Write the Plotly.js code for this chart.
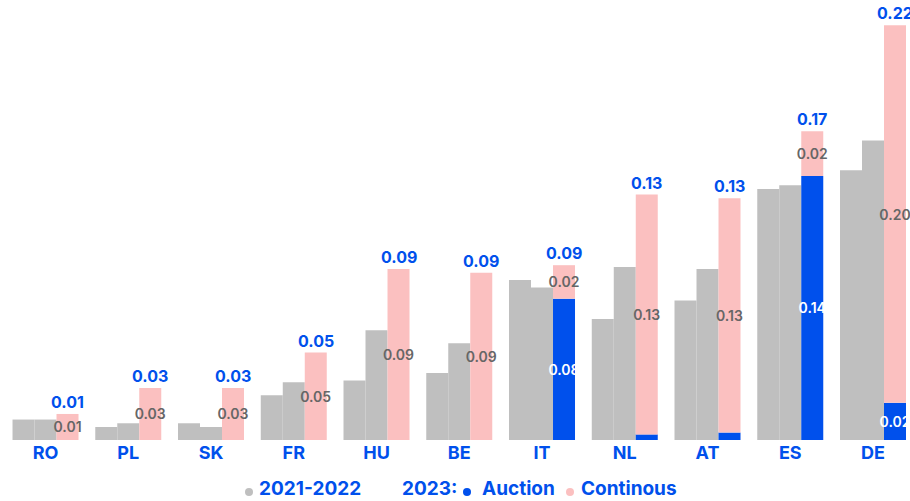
<!DOCTYPE html>
<html><head><meta charset="utf-8">
<script src="https://cdn.plot.ly/plotly-3.0.1.min.js"></script>
<style>html,body{margin:0;padding:0;background:#fff}#chart{width:910px;height:501px}</style>
</head><body><div id="chart"></div>
<script>
const countries = ['RO','PL','SK','FR','HU','BE','IT','NL','AT','ES','DE'];
const y2021 = [0.011,0.007,0.009,0.024,0.032,0.036,0.086,0.065,0.075,0.135,0.145];
const y2022 = [0.011,0.009,0.007,0.031,0.059,0.052,0.082,0.093,0.092,0.137,0.161];
const auction = [0,0,0,0,0,0,0.076,0.003,0.004,0.142,0.020];
const continuous = [0.014,0.028,0.028,0.047,0.092,0.090,0.018,0.129,0.126,0.024,0.203];
const legendLabels = ['2021-2022','2023:','Auction','Continous'];

const BLUE = '#0050EC', GRAY = '#BFBFBF', PINK = '#FBC0C0';
const FONT = 'Inter, "Noto Sans", sans-serif';
const bargap = 0.2024;
const barW = (1 - bargap) / 3;

const fmt = v => (Math.round(v * 100 + 1e-9) / 100).toFixed(2);
const totals = auction.map((a, i) => a + continuous[i]);
const aucText = auction.map(v => v >= 0.01 ? fmt(v) : '');
const contText = continuous.map(v => fmt(v));

const traces = [
  {type:'bar', x:countries, y:y2021, offsetgroup:'a', marker:{color:GRAY}, name:'2021', showlegend:false, hoverinfo:'skip'},
  {type:'bar', x:countries, y:y2022, offsetgroup:'b', marker:{color:GRAY}, name:'2022', showlegend:false, hoverinfo:'skip'},
  {type:'bar', x:countries, y:auction, offsetgroup:'c', marker:{color:BLUE}, name:'Auction', showlegend:false,
   text:aucText, textposition:'inside', insidetextanchor:'middle', textangle:0, constraintext:'none',
   textfont:{family:FONT, size:14, color:'#FFFFFF', weight:600}, hoverinfo:'skip'},
  {type:'bar', x:countries, y:continuous, base:auction, offsetgroup:'c', marker:{color:PINK}, name:'Continous', showlegend:false,
   text:contText, textposition:'inside', insidetextanchor:'middle', textangle:0, constraintext:'none',
   textfont:{family:FONT, size:14, color:'#666666', weight:600}, hoverinfo:'skip'}
];

const annotations = totals.map((t, i) => ({
  x: i + barW, y: t, xref:'x', yref:'y', text: fmt(t), showarrow:false,
  xanchor:'center', yanchor:'bottom', yshift:0,
  font:{family:FONT, size:16, color:BLUE, weight:700}
}));

// custom legend
const px = v => v / 910;
const py = v => (440 - v) / 440;
const legFont = {family:FONT, size:19, color:BLUE, weight:700};
const legX = [257, 400, 480, 579];
legendLabels.forEach((lab, k) => {
  annotations.push({x:px(legX[k]), y:py(488), xref:'paper', yref:'paper', text:lab, showarrow:false,
    xanchor:'left', yanchor:'middle', font:legFont});
});
const dots = [[249, GRAY],[467, BLUE],[570, PINK]];
const shapes = dots.map(([cx, c]) => ({type:'circle', xref:'paper', yref:'paper',
  x0:px(cx-4), x1:px(cx+4), y0:py(496), y1:py(488), fillcolor:c, line:{width:0}}));

const layout = {
  width:910, height:501,
  margin:{l:0, r:0, t:0, b:61, pad:0},
  paper_bgcolor:'#FFFFFF', plot_bgcolor:'#FFFFFF',
  barmode:'group', bargap:bargap, bargroupgap:0,
  showlegend:false,
  xaxis:{range:[-0.55, 10.447], showgrid:false, zeroline:false, showline:false, ticks:'',
    tickfont:{family:FONT, size:18, color:BLUE, weight:700}, fixedrange:true},
  yaxis:{range:[0, 0.2366], visible:false, fixedrange:true},
  annotations:annotations, shapes:shapes,
  font:{family:FONT}
};
Plotly.newPlot('chart', traces, layout, {staticPlot:true, displayModeBar:false});
</script></body></html>
